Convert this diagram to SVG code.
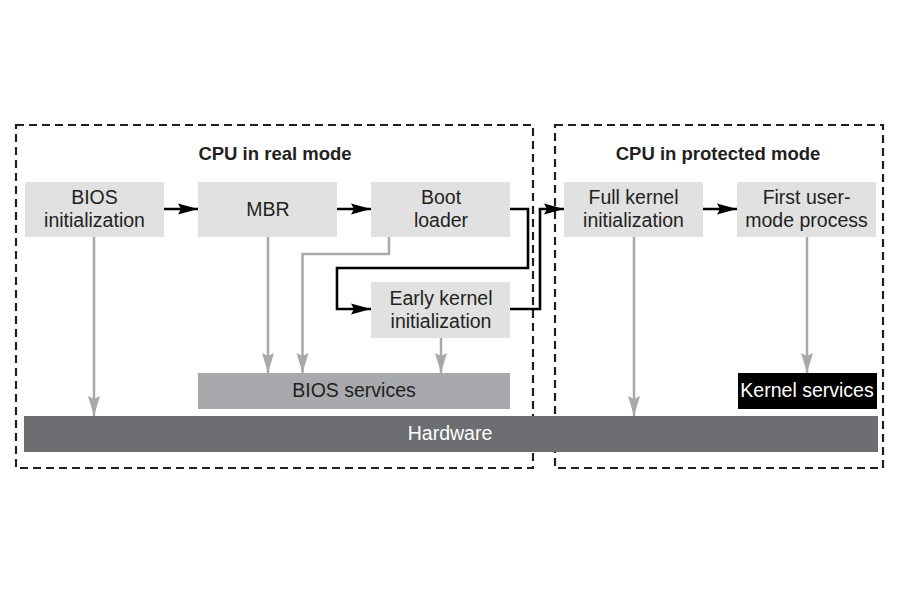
<svg xmlns="http://www.w3.org/2000/svg" width="900" height="600" viewBox="0 0 900 600">
<defs>
<style>
.frame{fill:none;stroke:#231f20;stroke-width:2.2;stroke-dasharray:8 5}
.box{fill:#e1e1e2}
.t{font-family:"Liberation Sans",Arial,sans-serif;font-size:19.5px;fill:#231f20;text-anchor:middle}
.title{font-family:"Liberation Sans",Arial,sans-serif;font-size:18.5px;font-weight:bold;fill:#231f20;text-anchor:middle}
.w{fill:#ffffff}
.blk{fill:none;stroke:#000;stroke-width:2.6;marker-end:url(#ab)}
.gry{fill:none;stroke:#a7a9ac;stroke-width:2.5;marker-end:url(#ag)}
</style>
<marker id="ab" markerUnits="userSpaceOnUse" markerWidth="22" markerHeight="14" refX="20" refY="7" orient="auto"><polygon points="0,1.5 20,7 0,12.5 3,7" fill="#000"/></marker>
<marker id="ag" markerUnits="userSpaceOnUse" markerWidth="22" markerHeight="14" refX="20" refY="7" orient="auto"><polygon points="0,1 20,7 0,13 3,7" fill="#a7a9ac"/></marker>
</defs>
<rect width="900" height="600" fill="#fff"/>
<g id="frames">
<rect class="frame" x="16" y="125" width="517" height="343"/>
<rect class="frame" x="555" y="125" width="328" height="343"/>
<text class="title" x="275" y="160">CPU in real mode</text>
<text class="title" x="718" y="160">CPU in protected mode</text>
</g>
<g id="hardware"><rect x="24" y="416" width="854" height="36" fill="#6d6e71"/><text class="t w" x="450" y="440">Hardware</text></g>
<g id="bios-services"><rect x="198" y="373" width="312" height="36" fill="#a7a9ac"/><text class="t" x="354" y="397">BIOS services</text></g>
<g id="kernel-services"><rect x="738" y="373" width="139" height="36" fill="#000"/><text class="t w" x="807" y="397">Kernel services</text></g>
<g id="bios-init"><rect class="box" x="25" y="182" width="139" height="55"/><text class="t" x="94.5" y="204">BIOS</text><text class="t" x="94.5" y="227">initialization</text></g>
<g id="mbr"><rect class="box" x="198" y="182" width="139" height="55"/><text class="t" x="268" y="216">MBR</text></g>
<g id="boot-loader"><rect class="box" x="371" y="182" width="139" height="55"/><text class="t" x="441" y="204">Boot</text><text class="t" x="441" y="227">loader</text></g>
<g id="early-kernel"><rect class="box" x="371" y="282" width="139" height="56"/><text class="t" x="441" y="304.5">Early kernel</text><text class="t" x="441" y="327.5">initialization</text></g>
<g id="full-kernel"><rect class="box" x="564" y="182" width="139" height="55"/><text class="t" x="633.5" y="204">Full kernel</text><text class="t" x="633.5" y="227">initialization</text></g>
<g id="first-user"><rect class="box" x="737" y="182" width="139" height="55"/><text class="t" x="806.5" y="204">First user-</text><text class="t" x="806.5" y="227">mode process</text></g>
<g id="connectors">
<path class="gry" d="M94,237 V416"/>
<path class="gry" d="M268,237 V373"/>
<path class="gry" d="M389,237 V254 H302.5 V373"/>
<path class="gry" d="M441,338 V373"/>
<path class="gry" d="M634,237 V416"/>
<path class="gry" d="M807,237 V373"/>
<path class="blk" d="M164,209 H198"/>
<path class="blk" d="M337,209 H371"/>
<path class="blk" d="M510,209 H528 V268 H337 V309 H371"/>
<path class="blk" d="M510,309 H540 V209 H564"/>
<path class="blk" d="M703,209 H737"/>
</g>
</svg>
